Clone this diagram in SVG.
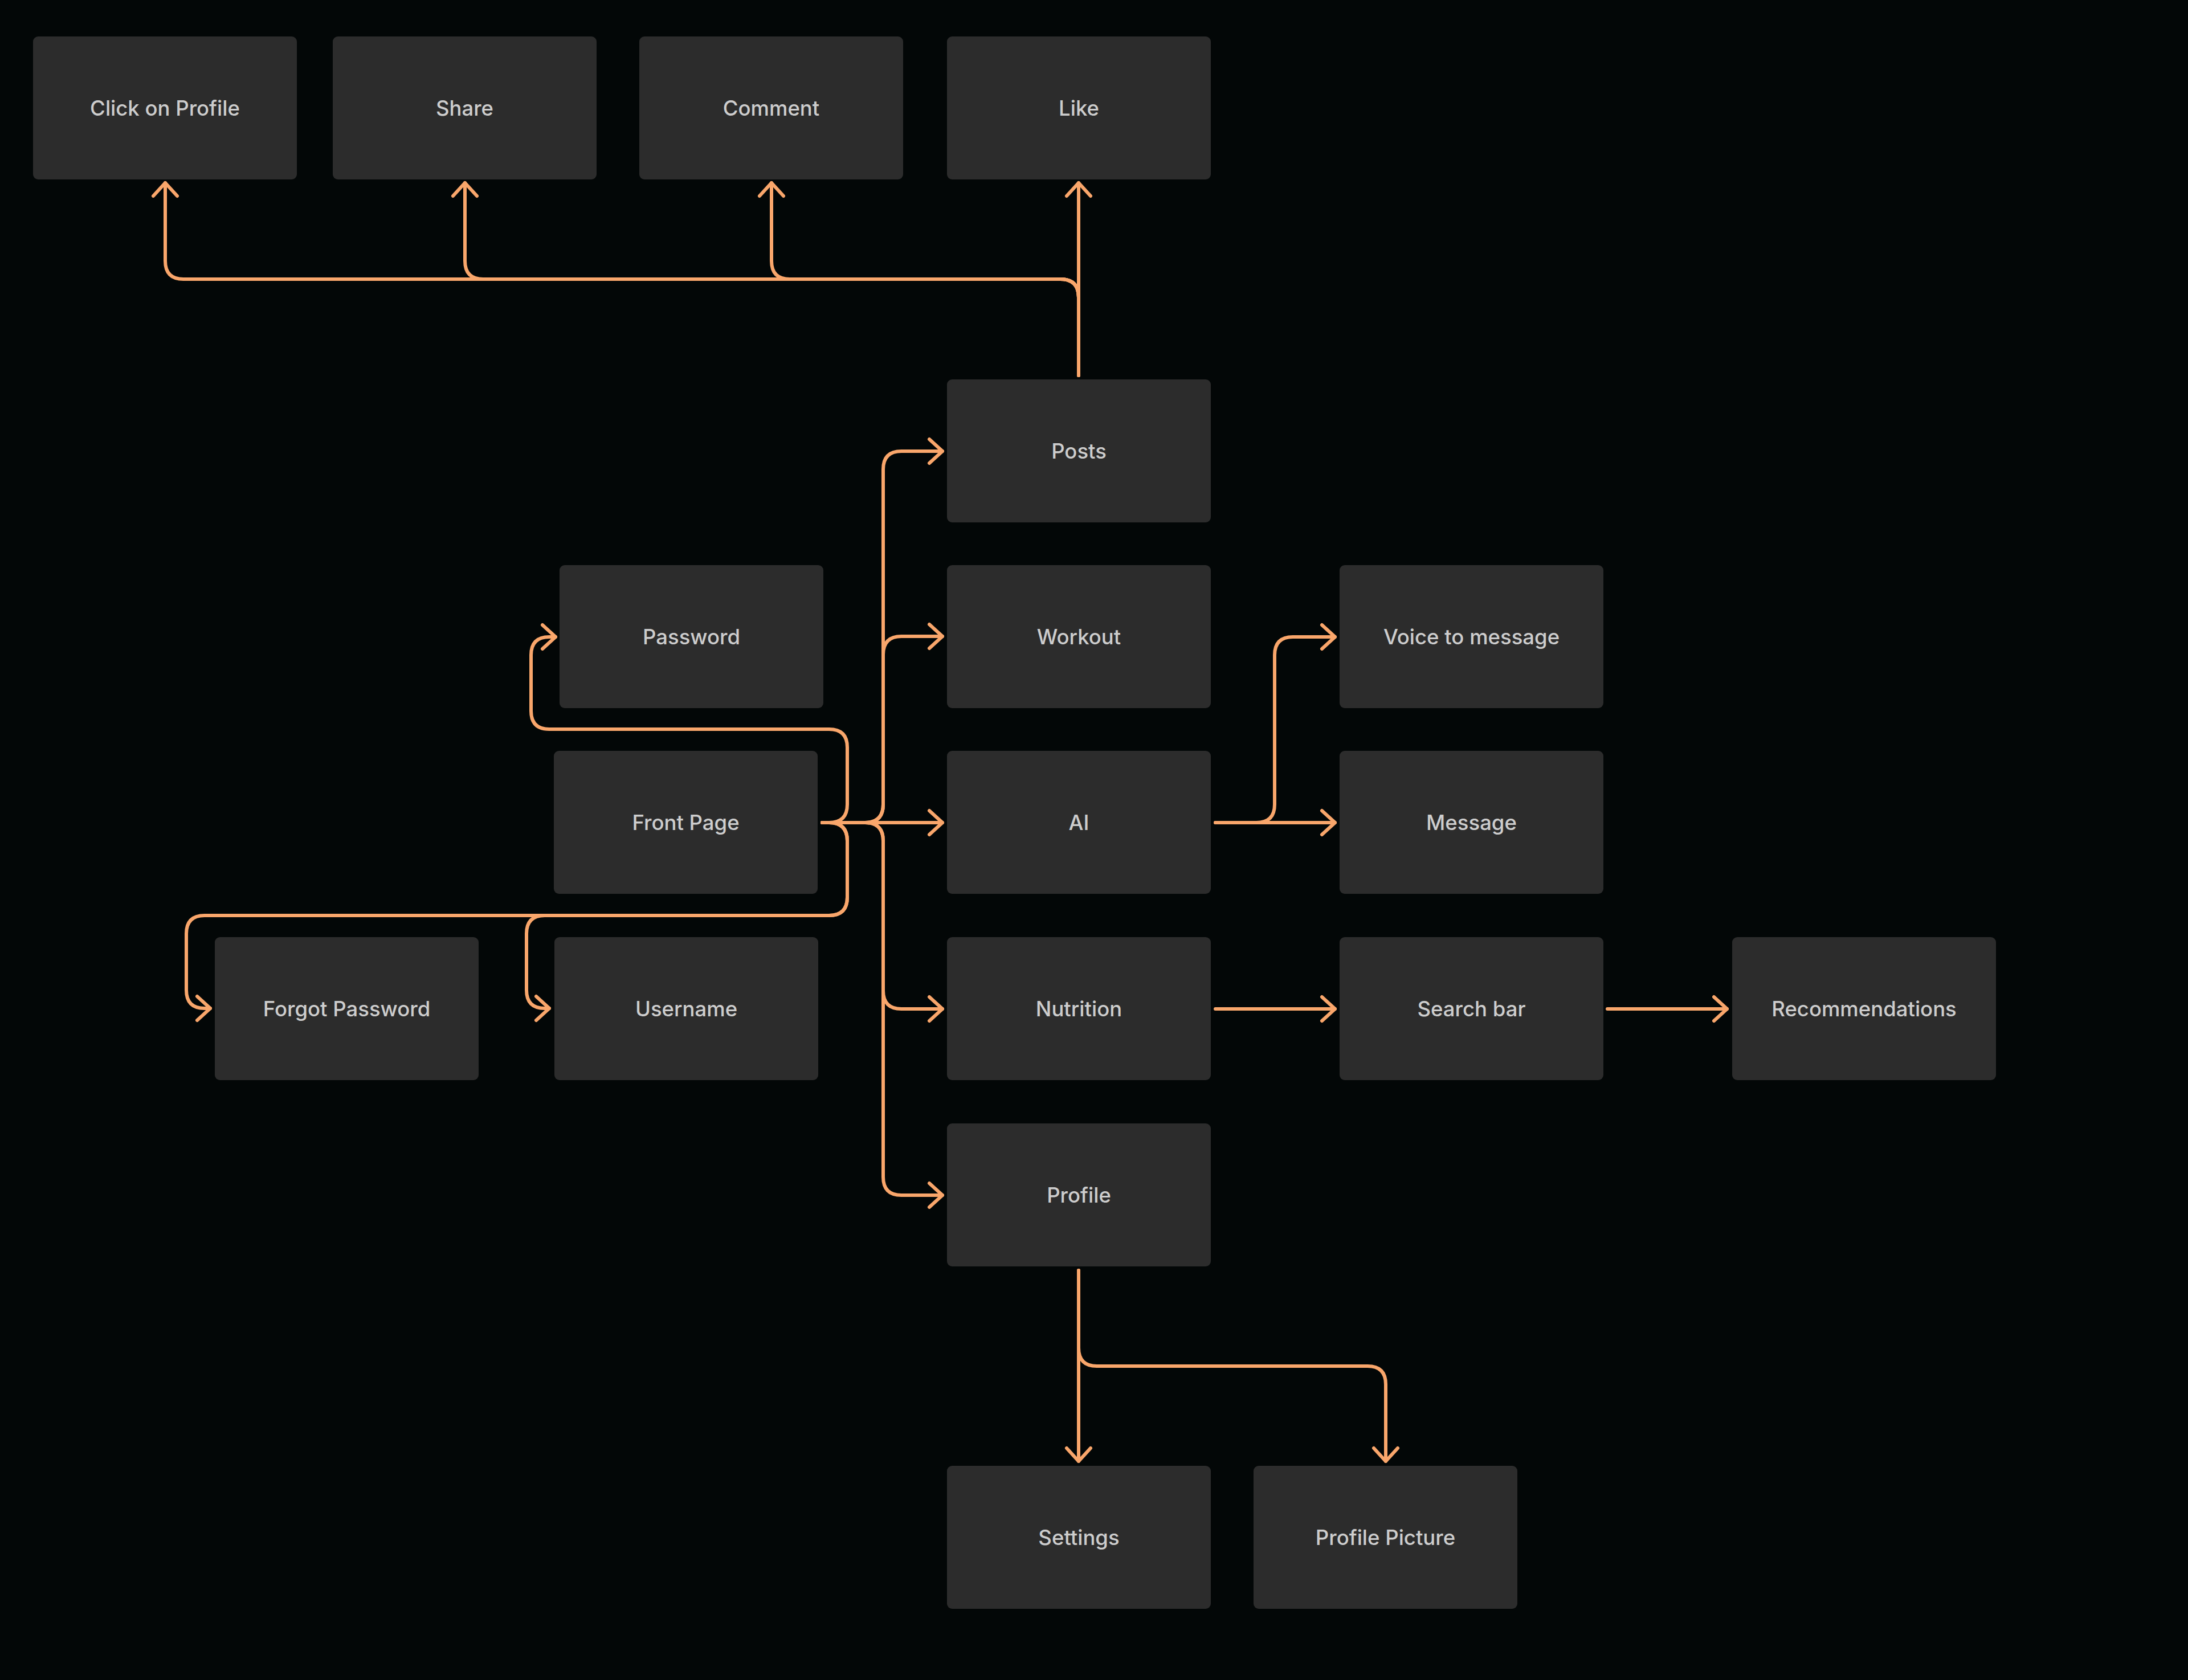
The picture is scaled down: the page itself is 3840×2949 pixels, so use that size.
<svg xmlns="http://www.w3.org/2000/svg" width="3840" height="2949" viewBox="0 0 3840 2949">
<defs>
<style>
.n rect{fill:#2c2c2c;}
.n text{font-family:Inter,"Noto Sans","Liberation Sans",sans-serif;font-size:36.5px;font-weight:500;fill:#cdcdcd;text-anchor:middle;}
.c path{fill:none;stroke:#f9a66b;stroke-width:6;stroke-linecap:round;stroke-linejoin:round;marker-end:url(#ah);}
</style>
<marker id="ah" markerUnits="userSpaceOnUse" markerWidth="60" markerHeight="60" viewBox="-30 -30 60 60" refX="0" refY="0" orient="auto" overflow="visible">
<path d="M-23,-21 L0,0 L-23,21" fill="none" stroke="#f9a66b" stroke-width="6" stroke-linecap="round" stroke-linejoin="round"/>
</marker>
</defs>
<rect width="3840" height="2949" fill="#030707"/>
<g id="connectors" class="c">
<path d="M1893 659 V321"/>
<path d="M1893 659 V522 Q1893 490 1861 490 H1386 Q1354 490 1354 458 V321"/>
<path d="M1893 659 V522 Q1893 490 1861 490 H848 Q816 490 816 458 V321"/>
<path d="M1893 659 V522 Q1893 490 1861 490 H322 Q290 490 290 458 V321"/>
<path d="M1443 1444 H1654"/>
<path d="M1443 1444 H1518 Q1550 1444 1550 1412 V824 Q1550 792 1582 792 H1654"/>
<path d="M1443 1444 H1518 Q1550 1444 1550 1412 V1149 Q1550 1117 1582 1117 H1654"/>
<path d="M1443 1444 H1518 Q1550 1444 1550 1476 V1739 Q1550 1771 1582 1771 H1654"/>
<path d="M1443 1444 H1518 Q1550 1444 1550 1476 V2066 Q1550 2098 1582 2098 H1654"/>
<path d="M1443 1444 H1455 Q1487 1444 1487 1412 V1312 Q1487 1280 1455 1280 H964 Q932 1280 932 1248 V1150 Q932 1118 964 1118 H975"/>
<path d="M1443 1444 H1455 Q1487 1444 1487 1476 V1575 Q1487 1607 1455 1607 H956 Q924 1607 924 1639 V1738 Q924 1770 956 1770 H964"/>
<path d="M1443 1444 H1455 Q1487 1444 1487 1476 V1575 Q1487 1607 1455 1607 H359 Q327 1607 327 1639 V1738 Q327 1770 359 1770 H369"/>
<path d="M2133 1444 H2343"/>
<path d="M2133 1444 H2205 Q2237 1444 2237 1412 V1150 Q2237 1118 2269 1118 H2343"/>
<path d="M2133 1771 H2343"/>
<path d="M2821 1771 H3031"/>
<path d="M1893 2230 V2565"/>
<path d="M1893 2230 V2366 Q1893 2398 1925 2398 H2400 Q2432 2398 2432 2430 V2565"/>
</g>
<g id="click" class="n"><rect x="58" y="64" width="463" height="251" rx="9"/><text x="289.5" y="203">Click on Profile</text></g>
<g id="share" class="n"><rect x="584" y="64" width="463" height="251" rx="9"/><text x="815.5" y="203">Share</text></g>
<g id="comment" class="n"><rect x="1122" y="64" width="463" height="251" rx="9"/><text x="1353.5" y="203">Comment</text></g>
<g id="like" class="n"><rect x="1662" y="64" width="463" height="251" rx="9"/><text x="1893.5" y="203">Like</text></g>
<g id="posts" class="n"><rect x="1662" y="666" width="463" height="251" rx="9"/><text x="1893.5" y="805">Posts</text></g>
<g id="password" class="n"><rect x="982" y="992" width="463" height="251" rx="9"/><text x="1213.5" y="1131">Password</text></g>
<g id="workout" class="n"><rect x="1662" y="992" width="463" height="251" rx="9"/><text x="1893.5" y="1131">Workout</text></g>
<g id="voice" class="n"><rect x="2351" y="992" width="463" height="251" rx="9"/><text x="2582.5" y="1131">Voice to message</text></g>
<g id="front" class="n"><rect x="972" y="1318" width="463" height="251" rx="9"/><text x="1203.5" y="1457">Front Page</text></g>
<g id="ai" class="n"><rect x="1662" y="1318" width="463" height="251" rx="9"/><text x="1893.5" y="1457">AI</text></g>
<g id="message" class="n"><rect x="2351" y="1318" width="463" height="251" rx="9"/><text x="2582.5" y="1457">Message</text></g>
<g id="forgot" class="n"><rect x="377" y="1645" width="463" height="251" rx="9"/><text x="608.5" y="1784">Forgot Password</text></g>
<g id="username" class="n"><rect x="973" y="1645" width="463" height="251" rx="9"/><text x="1204.5" y="1784">Username</text></g>
<g id="nutrition" class="n"><rect x="1662" y="1645" width="463" height="251" rx="9"/><text x="1893.5" y="1784">Nutrition</text></g>
<g id="search" class="n"><rect x="2351" y="1645" width="463" height="251" rx="9"/><text x="2582.5" y="1784">Search bar</text></g>
<g id="recommendations" class="n"><rect x="3040" y="1645" width="463" height="251" rx="9"/><text x="3271.5" y="1784">Recommendations</text></g>
<g id="profile" class="n"><rect x="1662" y="1972" width="463" height="251" rx="9"/><text x="1893.5" y="2111">Profile</text></g>
<g id="settings" class="n"><rect x="1662" y="2573" width="463" height="251" rx="9"/><text x="1893.5" y="2712">Settings</text></g>
<g id="picture" class="n"><rect x="2200" y="2573" width="463" height="251" rx="9"/><text x="2431.5" y="2712">Profile Picture</text></g>
</svg>
